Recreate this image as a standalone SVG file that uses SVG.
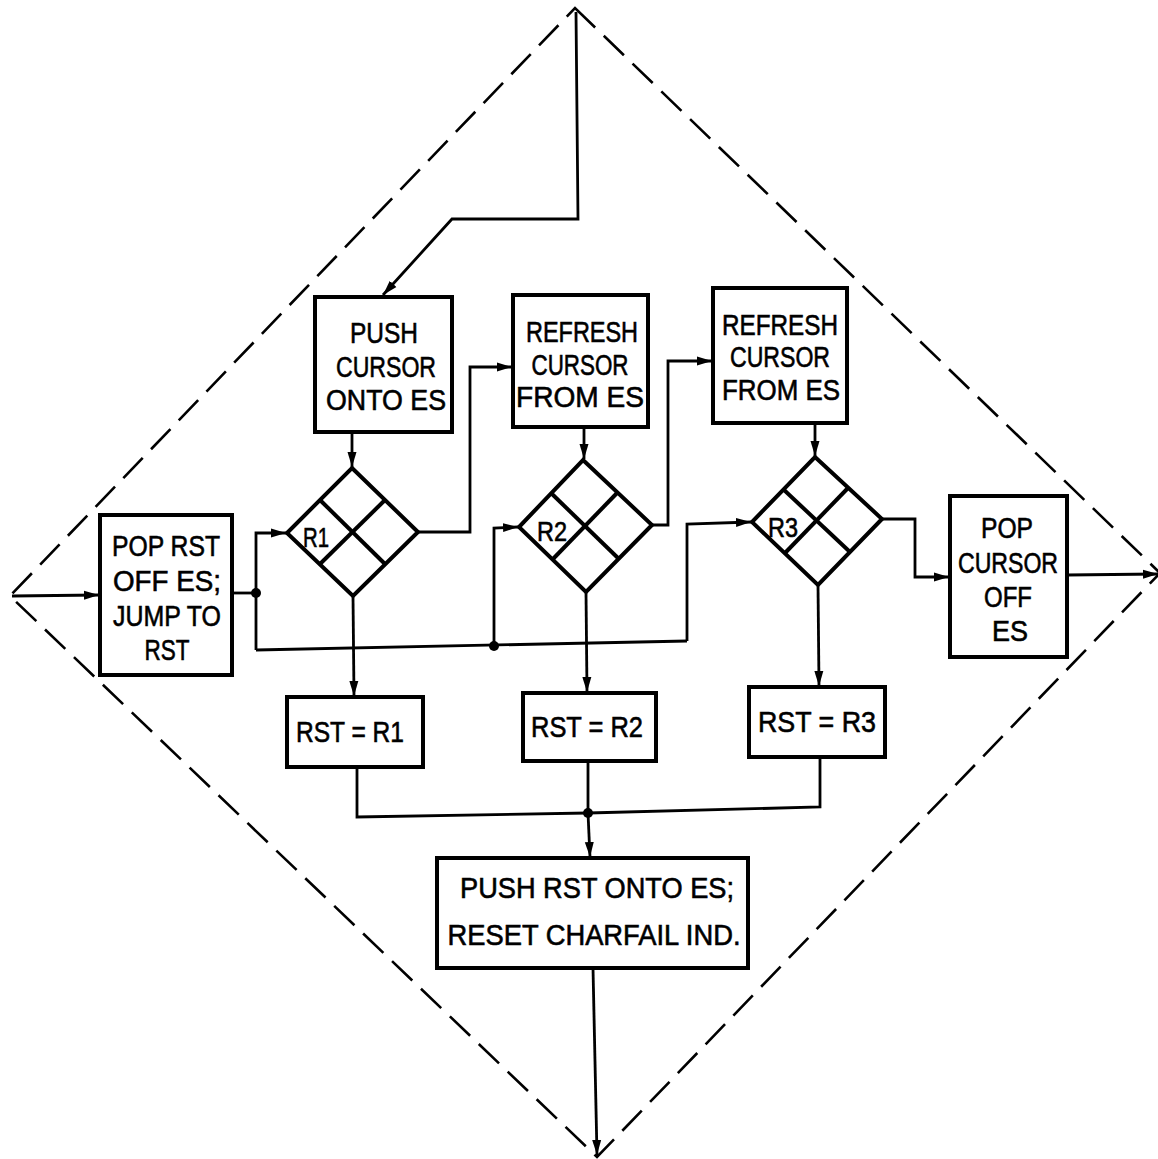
<svg xmlns="http://www.w3.org/2000/svg" width="1158" height="1159" viewBox="0 0 1158 1159">
<defs>
<marker id="ah" viewBox="0 0 15 10" refX="15" refY="5" markerWidth="15" markerHeight="10" markerUnits="userSpaceOnUse" orient="auto"><path d="M0,0.5 L15,5 L0,9.5 z" fill="#000"/></marker>
<style>
.box{fill:#fff;stroke:#000;stroke-width:4}
.dia{fill:none;stroke:#000;stroke-width:4;stroke-linejoin:miter}
.ln{fill:none;stroke:#000;stroke-width:2.8}
.arr{fill:none;stroke:#000;stroke-width:2.8;marker-end:url(#ah)}
.dash{fill:none;stroke:#000;stroke-width:2.6;stroke-dasharray:28 12}
.t{font-family:"Liberation Sans Narrow","Liberation Sans",Arial,sans-serif;font-size:29px;fill:#000;stroke:#000;stroke-width:0.6;text-anchor:middle}
.s{font-size:27px}
.dot{fill:#000}
</style>
</defs>
<rect width="1158" height="1159" fill="#fff"/>
<g id="frame">
<polygon class="dash" points="575,8 1160,573 597,1157 10,596"/>
</g>
<g id="connectors">
<polyline class="arr" points="576,12 578,219 452,219 383,295"/>
<line class="arr" x1="12" y1="596" x2="99" y2="595"/>
<polyline class="ln" points="232,593 256,593"/>
<polyline class="arr" points="256,650 256,533 286,533"/>
<polyline class="ln" points="256,650 687,641"/>
<polyline class="arr" points="494,646 494,528 518,527"/>
<polyline class="arr" points="687,641 687,524 751,522"/>
<line class="arr" x1="352" y1="432" x2="352" y2="467"/>
<line class="arr" x1="584" y1="427" x2="584" y2="459"/>
<line class="arr" x1="815" y1="423" x2="815" y2="456"/>
<polyline class="arr" points="418,532 470,532 470,367 512,367"/>
<polyline class="arr" points="652,525 668,525 668,361 712,361"/>
<polyline class="arr" points="882,519 915,519 915,577 949,577"/>
<line class="arr" x1="1067" y1="575" x2="1158" y2="574"/>
<line class="arr" x1="353" y1="596" x2="354" y2="696"/>
<line class="arr" x1="586" y1="592" x2="587" y2="692"/>
<line class="arr" x1="818" y1="585" x2="819" y2="686"/>
<polyline class="ln" points="357,767 357,817 588,813 820,807 820,757"/>
<line class="ln" x1="588" y1="761" x2="588" y2="813"/>
<line class="arr" x1="588" y1="813" x2="590" y2="857"/>
<line class="arr" x1="593" y1="968" x2="597" y2="1155"/>
<circle class="dot" cx="256" cy="593" r="5"/>
<circle class="dot" cx="494" cy="646" r="5"/>
<circle class="dot" cx="588" cy="813" r="5"/>
</g>
<g id="pop-rst">
<rect class="box" x="100" y="515" width="132" height="160"/>
<text class="t" x="166" y="556" textLength="108" lengthAdjust="spacingAndGlyphs">POP RST</text>
<text class="t" x="167" y="591" textLength="108" lengthAdjust="spacingAndGlyphs">OFF ES;</text>
<text class="t" x="167" y="626" textLength="108" lengthAdjust="spacingAndGlyphs">JUMP TO</text>
<text class="t" x="167" y="660" textLength="45" lengthAdjust="spacingAndGlyphs">RST</text>
</g>
<g id="push-cursor">
<rect class="box" x="315" y="297" width="137" height="135"/>
<text class="t" x="384" y="343" textLength="68" lengthAdjust="spacingAndGlyphs">PUSH</text>
<text class="t" x="386" y="377" textLength="100" lengthAdjust="spacingAndGlyphs">CURSOR</text>
<text class="t" x="386" y="410" textLength="120" lengthAdjust="spacingAndGlyphs">ONTO ES</text>
</g>
<g id="refresh1">
<rect class="box" x="513" y="295" width="135" height="132"/>
<text class="t" x="582" y="342" textLength="112" lengthAdjust="spacingAndGlyphs">REFRESH</text>
<text class="t" x="580" y="375" textLength="97" lengthAdjust="spacingAndGlyphs">CURSOR</text>
<text class="t" x="580" y="407" textLength="128" lengthAdjust="spacingAndGlyphs">FROM ES</text>
</g>
<g id="refresh2">
<rect class="box" x="713" y="288" width="134" height="135"/>
<text class="t" x="780" y="335" textLength="116" lengthAdjust="spacingAndGlyphs">REFRESH</text>
<text class="t" x="780" y="367" textLength="100" lengthAdjust="spacingAndGlyphs">CURSOR</text>
<text class="t" x="781" y="400" textLength="118" lengthAdjust="spacingAndGlyphs">FROM ES</text>
</g>
<g id="r1">
<polygon class="dia" points="352,468 418,532 353,596 287,533"/>
<line class="dia" x1="320" y1="500" x2="385" y2="564"/>
<line class="dia" x1="385" y1="500" x2="320" y2="564"/>
<text class="t s" x="316" y="547" textLength="26" lengthAdjust="spacingAndGlyphs">R1</text>
</g>
<g id="r2">
<polygon class="dia" points="583,460 652,525 586,592 519,527"/>
<line class="dia" x1="551" y1="493" x2="619" y2="559"/>
<line class="dia" x1="618" y1="492" x2="552" y2="560"/>
<text class="t s" x="552" y="541" textLength="30" lengthAdjust="spacingAndGlyphs">R2</text>
</g>
<g id="r3">
<polygon class="dia" points="815,457 882,519 818,585 752,522"/>
<line class="dia" x1="783" y1="489" x2="850" y2="552"/>
<line class="dia" x1="848" y1="488" x2="785" y2="553"/>
<text class="t s" x="783" y="537" textLength="30" lengthAdjust="spacingAndGlyphs">R3</text>
</g>
<g id="pop-cursor">
<rect class="box" x="950" y="496" width="117" height="161"/>
<text class="t" x="1007" y="538" textLength="52" lengthAdjust="spacingAndGlyphs">POP</text>
<text class="t" x="1008" y="573" textLength="100" lengthAdjust="spacingAndGlyphs">CURSOR</text>
<text class="t" x="1008" y="607" textLength="48" lengthAdjust="spacingAndGlyphs">OFF</text>
<text class="t" x="1010" y="641" textLength="36" lengthAdjust="spacingAndGlyphs">ES</text>
</g>
<g id="rst-r1">
<rect class="box" x="287" y="697" width="136" height="70"/>
<text class="t" x="350" y="742" textLength="108" lengthAdjust="spacingAndGlyphs">RST = R1</text>
</g>
<g id="rst-r2">
<rect class="box" x="523" y="693" width="133" height="68"/>
<text class="t" x="587" y="737" textLength="112" lengthAdjust="spacingAndGlyphs">RST = R2</text>
</g>
<g id="rst-r3">
<rect class="box" x="749" y="687" width="136" height="70"/>
<text class="t" x="817" y="732" textLength="118" lengthAdjust="spacingAndGlyphs">RST = R3</text>
</g>
<g id="push-rst">
<rect class="box" x="437" y="858" width="311" height="110"/>
<text class="t" x="597" y="898" textLength="274" lengthAdjust="spacingAndGlyphs">PUSH RST ONTO ES;</text>
<text class="t" x="594" y="945" textLength="293" lengthAdjust="spacingAndGlyphs">RESET CHARFAIL IND.</text>
</g>
</svg>
